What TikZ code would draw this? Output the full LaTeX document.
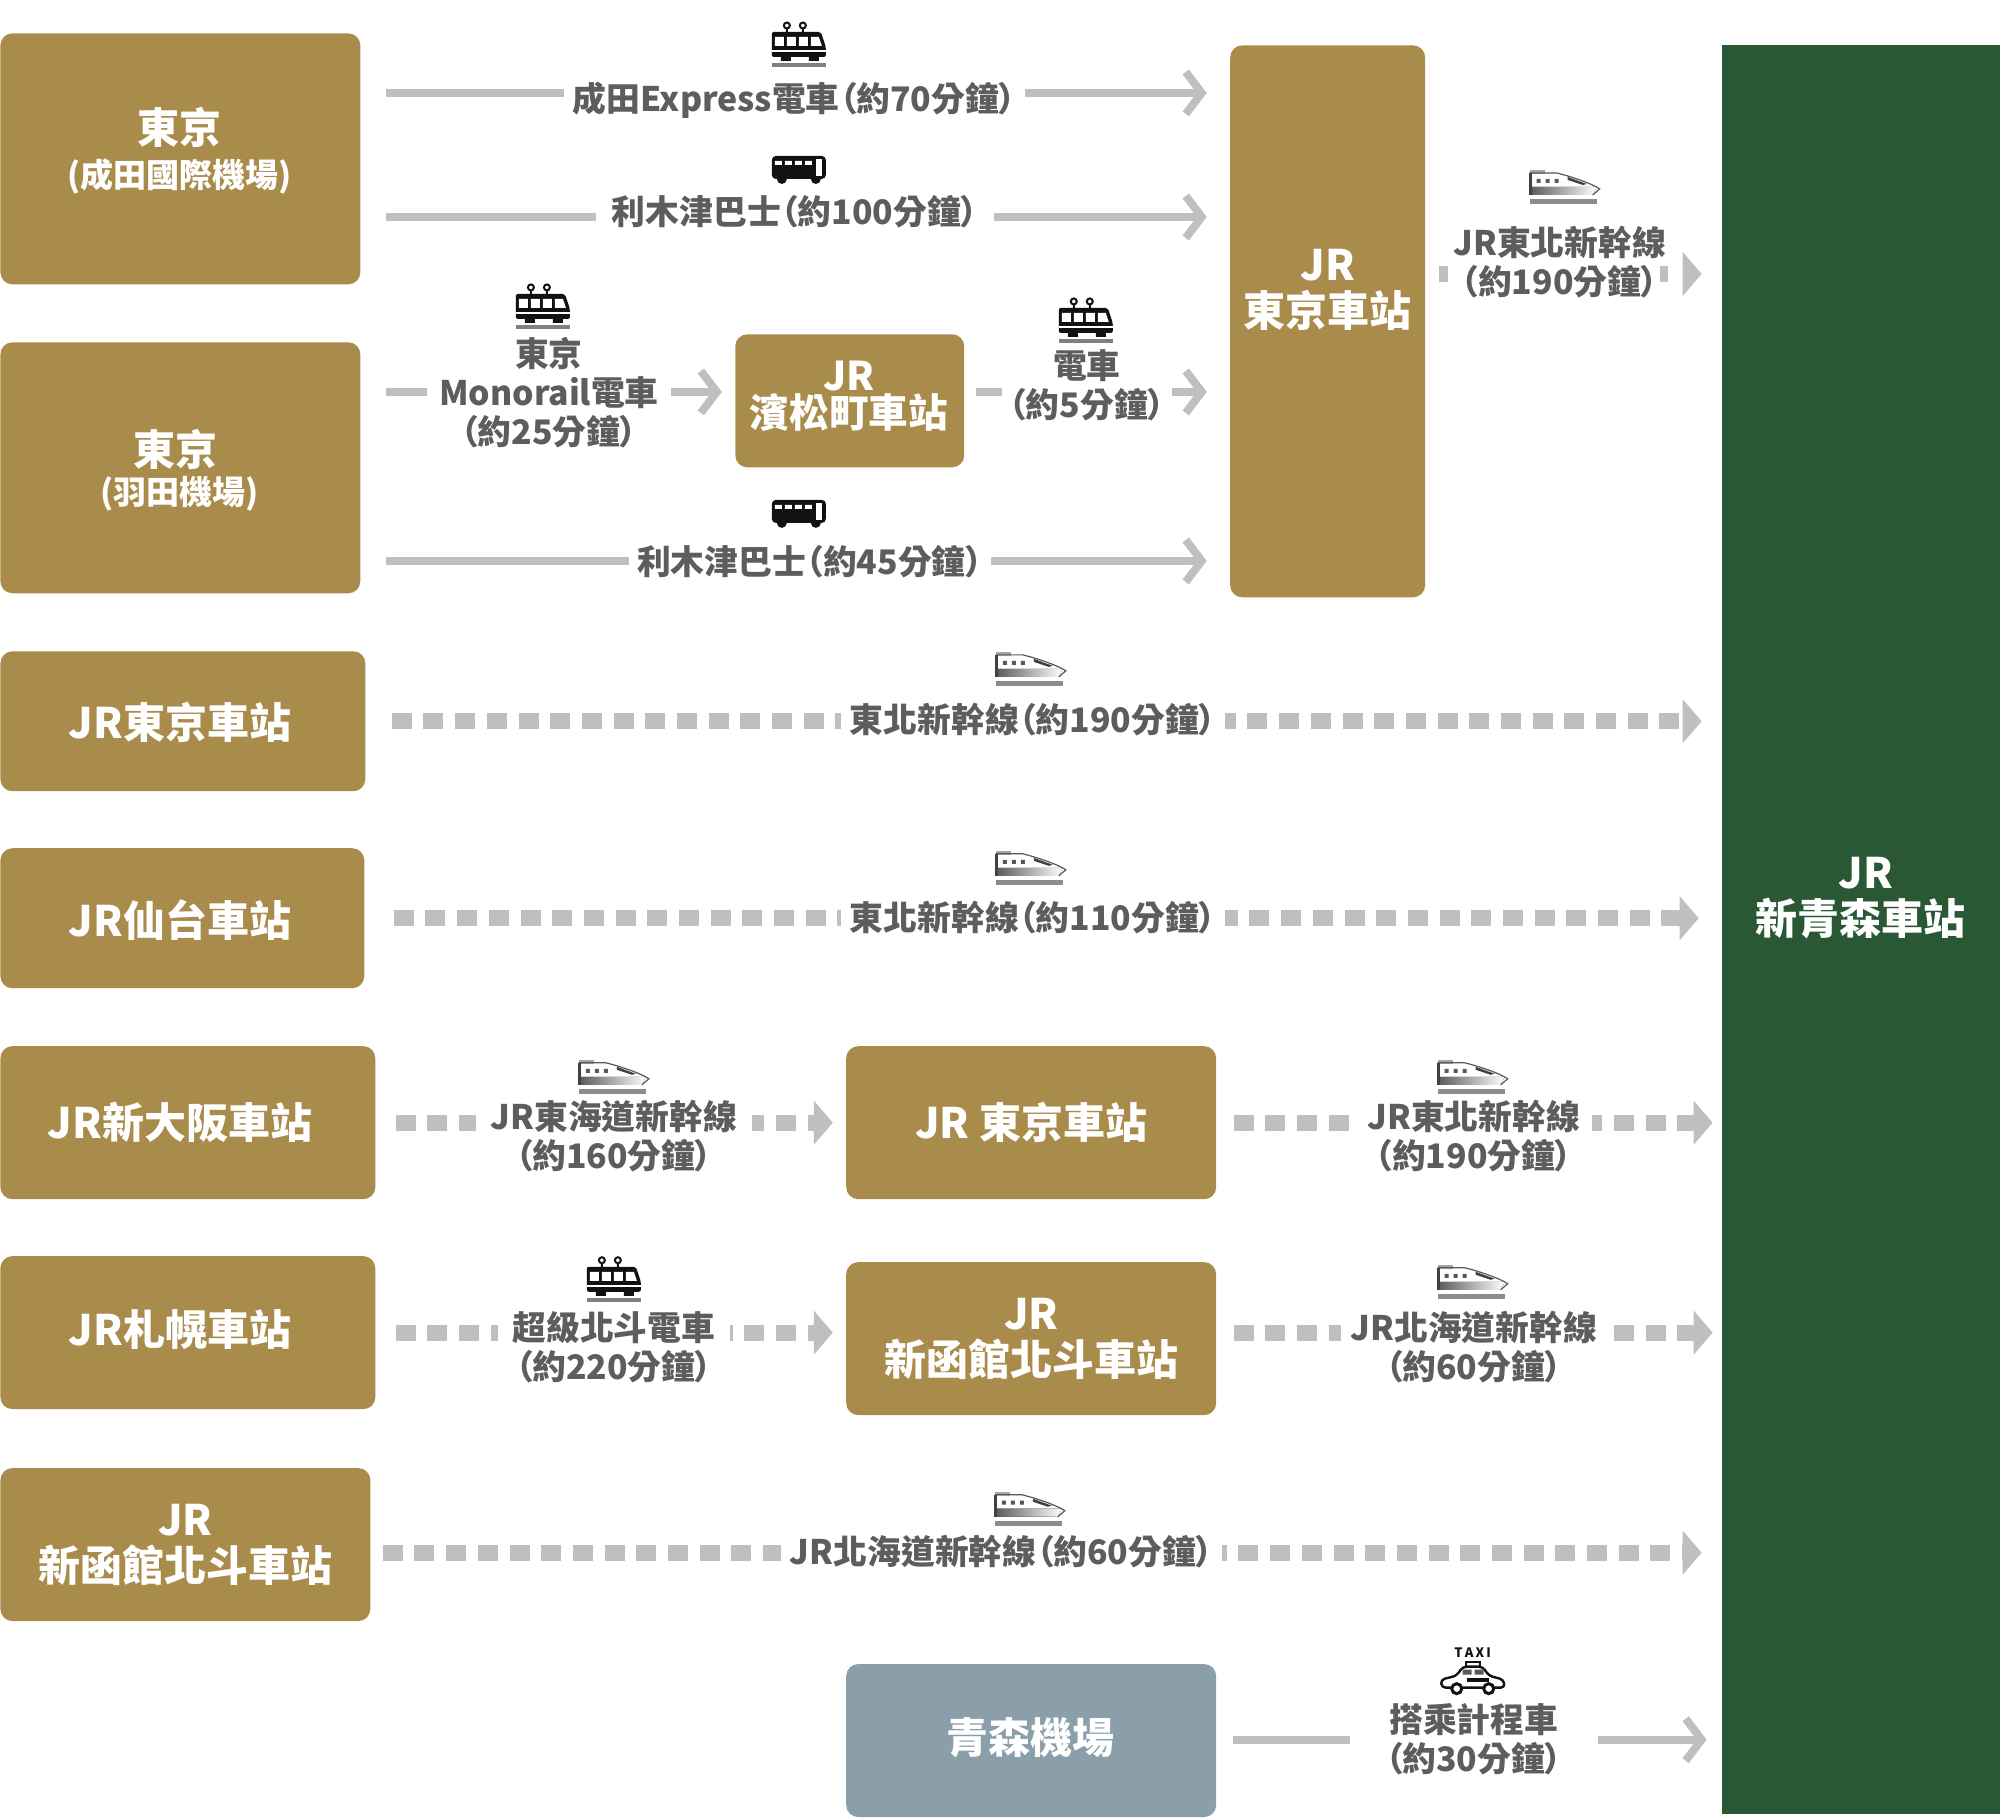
\documentclass[tikz,border=0pt]{standalone}
\usepackage{fontspec}
\setmainfont{Noto Sans CJK TC}[RawFeature=+palt]
\usetikzlibrary{arrows.meta}
\definecolor{stationgold}{HTML}{A98C4B}
\definecolor{stationgreen}{HTML}{2A5835}
\definecolor{airportblue}{HTML}{8A9FA9}
\definecolor{routegray}{HTML}{BFBFBF}
\definecolor{labelgray}{HTML}{5E5C5C}
\definecolor{iconblack}{HTML}{111111}

\begin{document}
\begin{tikzpicture}[
  x=0.5pt,y=-0.5pt,
  box/.style={anchor=north west,inner sep=0pt,rounded corners=6pt,text=white,align=center,
    font=\fontsize{21}{23}\selectfont\bfseries},
  goldbox/.style={box,fill=stationgold},
  boxtext/.style={inner sep=0pt,text=white,align=center,font=\fontsize{21}{23}\selectfont\bfseries},
  routelabel/.style={inner xsep=4.5pt,inner ysep=2pt,fill=white,text=labelgray,align=center,
    font=\fontsize{16.9}{19.5}\selectfont\bfseries},
  solidroute/.style={draw=routegray,line width=4pt},
  solidarrow/.style={solidroute,-{Straight Barb[length=8pt,width=21pt,line width=4pt]}},
  dashroute/.style={draw=routegray,line width=8pt,dash pattern=on 10pt off 5.85pt},
  dasharrow/.style={dashroute,-{Triangle[length=9.5pt,width=21.5pt,color=routegray]}},
  pics/traincar/.style={code={
    \draw[iconblack,line width=1pt] (-12,-17.5) circle (3) (4,-17.5) circle (3)
      (-12,-14) -- (-12,-11) (4,-14) -- (4,-11);
    \fill[iconblack,rounded corners=1pt] (-27,-11) -- (22,-11) -- (27,4) -- (27,14) -- (-27,14) -- cycle;
    \fill[white] (-24,-6) rectangle (-15,3) (-12,-6) rectangle (-3,3) (0,-6) rectangle (9,3);
    \fill[white] (12,-6) -- (20,-6) -- (23,3) -- (12,3) -- cycle;
    \fill[white] (-27,7) rectangle (27,9);
    \fill[iconblack] (-18,14) rectangle (-8,18) (10,14) rectangle (20,18);
    \fill[gray] (-27,20) rectangle (27,24);
  }},
  pics/coach/.style={code={
    \fill[iconblack,rounded corners=2pt] (-27,-14) rectangle (27,9);
    \fill[iconblack] (-17,9) circle (5) (17,9) circle (5);
    \fill[white] (-24,-9) rectangle (-17,-5) (-14,-9) rectangle (-7,-5)
      (-4,-9) rectangle (3,-5) (6,-9) rectangle (13,-5);
    \fill[white] (17,-11) rectangle (23,6);
  }},
  pics/bullet/.style={code={
    \fill[gray!70] (-35,-18) rectangle (-20,-14);
    \fill[white] (-35,-14) -- (-8,-14) .. controls (8,-10) and (28,-4) .. (35,1) -- (28,7) -- (-35,7) -- cycle;
    \fill[left color=iconblack!70,right color=white] (-35,-1) -- (32,-1) -- (28,7) -- (-35,7) -- cycle;
    \draw[iconblack!70,line width=.6pt] (-35,-15) -- (-8,-15) .. controls (8,-11) and (28,-4) .. (35,1) -- (28,7);
    \fill[iconblack!80] (-36,-15) rectangle (-33,7);
    \fill[iconblack!70] (-28,-9) rectangle (-24,-5) (-19,-9) rectangle (-15,-5) (-10,-9) rectangle (-6,-5);
    \fill[iconblack!80] (3,-11) -- (22,-4) -- (18,-3) -- (3,-8) -- cycle;
    \fill[gray!90] (-35,11) rectangle (32,16);
  }},
  pics/cab/.style={code={
    \draw[iconblack,fill=white,line width=1pt] (-7,-17) rectangle (7,-12);
    \draw[iconblack,fill=white,line width=1.2pt,rounded corners=2pt] (-31,9) -- (-32,1) -- (-16,-3)
      -- (-10,-12) -- (10,-12) -- (16,-3) -- (31,1) -- (32,9) -- cycle;
    \fill[iconblack!70] (-10,-9) rectangle (-1,-4) (2,-9) rectangle (11,-4);
    \fill[iconblack] (-6,-1) rectangle (16,3);
    \draw[iconblack,fill=white,line width=1.5pt] (-16,10) circle (5) (16,10) circle (5);
  }}
  ]
  \node (narita)      [goldbox,minimum width=180pt,minimum height=125.5pt] at (0,33) {};
  \node (haneda)      [goldbox,minimum width=180pt,minimum height=125.5pt] at (0,342) {};
  \node (tokyoleft)   [goldbox,minimum width=182.5pt,minimum height=70pt] at (0,651) {};
  \node (sendai)      [goldbox,minimum width=182pt,minimum height=70pt] at (0,848) {};
  \node (osaka)       [goldbox,minimum width=187.5pt,minimum height=76.5pt] at (0,1046) {};
  \node (sapporo)     [goldbox,minimum width=187.5pt,minimum height=76.5pt] at (0,1256) {};
  \node (hakodateleft)[goldbox,minimum width=185pt,minimum height=76.5pt] at (0,1468) {JR\\新函館北斗車站};
  \node (hamamatsu)   [goldbox,minimum width=114.5pt,minimum height=66.5pt] at (735,334) {};
  \node (tokyomid)    [goldbox,minimum width=185pt,minimum height=76.5pt] at (846,1046) {JR 東京車站};
  \node (hakodatemid) [goldbox,minimum width=185pt,minimum height=76.5pt] at (846,1262) {JR\\新函館北斗車站};
  \node (aomoriair)   [box,fill=airportblue,minimum width=185pt,minimum height=76.5pt] at (846,1664) {};
  \node (tokyotall)   [goldbox,minimum width=97.5pt,minimum height=276pt] at (1230,45) {};
  \node (aomori)      [box,fill=stationgreen,rounded corners=0pt,minimum width=139pt,minimum height=884.5pt] at (1722,45) {};

  \node (naritatext)  [boxtext] at (180,151)
    {東京\\[-1pt]{\fontsize{16.5}{19}\selectfont (成田國際機場)}};
  \node (hanedatext)  [boxtext] at (180,470)
    {東京\kern 4.5pt\\[-3.5pt]{\fontsize{16.5}{19}\selectfont (羽田機場)}};
  \node (tokyolefttext) [boxtext] at (180,723) {JR東京車站};
  \node (sendaitext)  [boxtext] at (180,920) {JR仙台車站};
  \node (osakatext)   [boxtext] at (180,1123) {JR新大阪車站};
  \node (sapporotext) [boxtext] at (180,1330) {JR札幌車站};
  \node (hamatext)    [boxtext,font=\fontsize{19.8}{18.5}\selectfont\bfseries] at (849,396) {JR\\濱松町車站};
  \node (aomoriairtext) [boxtext] at (1031,1738) {青森機場};
  \node (tokyotalltext) [boxtext] at (1328,290) {JR\\東京車站};
  \node (aomoritext)  [boxtext] at (1861,898) {\kern 5pt JR\\新青森車站};

  \coordinate (nexrow)  at (0,93);
  \coordinate (busarow) at (0,217);
  \coordinate (monorow) at (0,392);
  \coordinate (busbrow) at (0,561);
  \coordinate (toprow)  at (0,274);
  \coordinate (hkdrow)  at (0,1553);
  \coordinate (taxirow) at (0,1740);
  \coordinate (topstub) at (1448,274);
  \coordinate (topsliver) at (1660,274);

  \draw [solidarrow,shorten <=12.5pt,shorten >=11.5pt] (narita.east |- nexrow) -- (tokyotall.west |- nexrow);
  \draw [solidarrow,shorten <=12.5pt,shorten >=11.5pt] (narita.east |- busarow) -- (tokyotall.west |- busarow);
  \draw [solidarrow,shorten <=12.5pt,shorten >=6.5pt] (haneda.east |- monorow) -- (hamamatsu.west |- monorow);
  \draw [solidarrow,shorten <=5.5pt,shorten >=11.5pt] (hamamatsu.east |- monorow) -- (tokyotall.west |- monorow);
  \draw [solidarrow,shorten <=12.5pt,shorten >=11.5pt] (haneda.east |- busbrow) -- (tokyotall.west |- busbrow);
  \draw [solidarrow,shorten <=8pt,shorten >=7.5pt] (aomoriair.east |- taxirow) -- (aomori.west |- taxirow);

  \draw [dashroute,shorten <=6.5pt] (tokyotall.east |- toprow) -- (topstub);
  \draw [dasharrow,dash pattern=on 4pt off 10pt,shorten >=10pt] (topsliver) -- (aomori.west |- toprow);
  \draw [dasharrow,shorten <=13pt,shorten >=10pt] (tokyoleft.east) -- (aomori.west |- tokyoleft.east);
  \draw [dasharrow,shorten <=14.5pt,shorten >=11.5pt] (sendai.east) -- (aomori.west |- sendai.east);
  \draw [dasharrow,shorten <=10pt,shorten >=6.5pt] (osaka.east) -- (tokyomid.west);
  \draw [dasharrow,shorten <=8.5pt,shorten >=4.5pt] (tokyomid.east) -- (aomori.west |- tokyomid.east);
  \draw [dasharrow,shorten <=10pt,shorten >=6.5pt] (sapporo.east) -- (hakodatemid.west |- sapporo.east);
  \draw [dasharrow,shorten <=8.5pt,shorten >=4.5pt] (hakodatemid.east |- sapporo.east) -- (aomori.west |- sapporo.east);
  \draw [dasharrow,shorten <=6pt,shorten >=10pt] (hakodateleft.east |- hkdrow) -- (aomori.west |- hkdrow);

  \node (nexlabel)    [routelabel] at (794.5,100) {成田Express電車（約70分鐘）};
  \node (buslabela)   [routelabel,inner xsep=8pt] at (795,212) {利木津巴士（約100分鐘）};
  \node (monolabel)   [routelabel,inner xsep=6pt] at (549,393) {東京\\Monorail電車\\（約25分鐘）};
  \node (emulabel)    [routelabel,inner xsep=3.5pt] at (1087,385) {電車\\（約5分鐘）};
  \node (buslabelb)   [routelabel,inner xsep=4pt] at (810,562) {利木津巴士（約45分鐘）};
  \node (tohokutop)   [routelabel,inner xsep=0pt,fill=none] at (1560,262) {JR東北新幹線\\（約190分鐘）};
  \node (tohokua)     [routelabel] at (1033,720) {東北新幹線（約190分鐘）};
  \node (tohokub)     [routelabel] at (1033,918) {東北新幹線（約110分鐘）};
  \node (tokaido)     [routelabel,inner xsep=7.5pt] at (614,1136) {JR東海道新幹線\\（約160分鐘）};
  \node (tohokuc)     [routelabel,inner xsep=6pt] at (1474,1136) {JR東北新幹線\\（約190分鐘）};
  \node (hokuto)      [routelabel,inner xsep=7.5pt] at (614,1347) {超級北斗電車\\（約220分鐘）};
  \node (hokkaidoa)   [routelabel] at (1474,1347) {JR北海道新幹線\\（約60分鐘）};
  \node (hokkaidob)   [routelabel] at (1001.5,1552) {JR北海道新幹線（約60分鐘）};
  \node (taxilabel)   [routelabel,inner xsep=18pt] at (1474,1740) {搭乘計程車\\（約30分鐘）};
  \node (taxitag)     [inner sep=0pt,text=iconblack,font=\fontsize{6.5}{7}\selectfont\bfseries] at (1473,1653) {T\,A\,X\,I};

  \pic at (799,43) {traincar};
  \pic at (543,305) {traincar};
  \pic at (1086,319) {traincar};
  \pic at (614,1278) {traincar};
  \pic at (799,170) {coach};
  \pic at (799,514) {coach};
  \pic at (1565,188) {bullet};
  \pic at (1031,670) {bullet};
  \pic at (1031,869) {bullet};
  \pic at (614,1078) {bullet};
  \pic at (1473,1078) {bullet};
  \pic at (1473,1283) {bullet};
  \pic at (1030,1510) {bullet};
  \pic at (1473,1679) {cab};

  \useasboundingbox (0,0) rectangle (2000,1818);
\end{tikzpicture}
\end{document}
